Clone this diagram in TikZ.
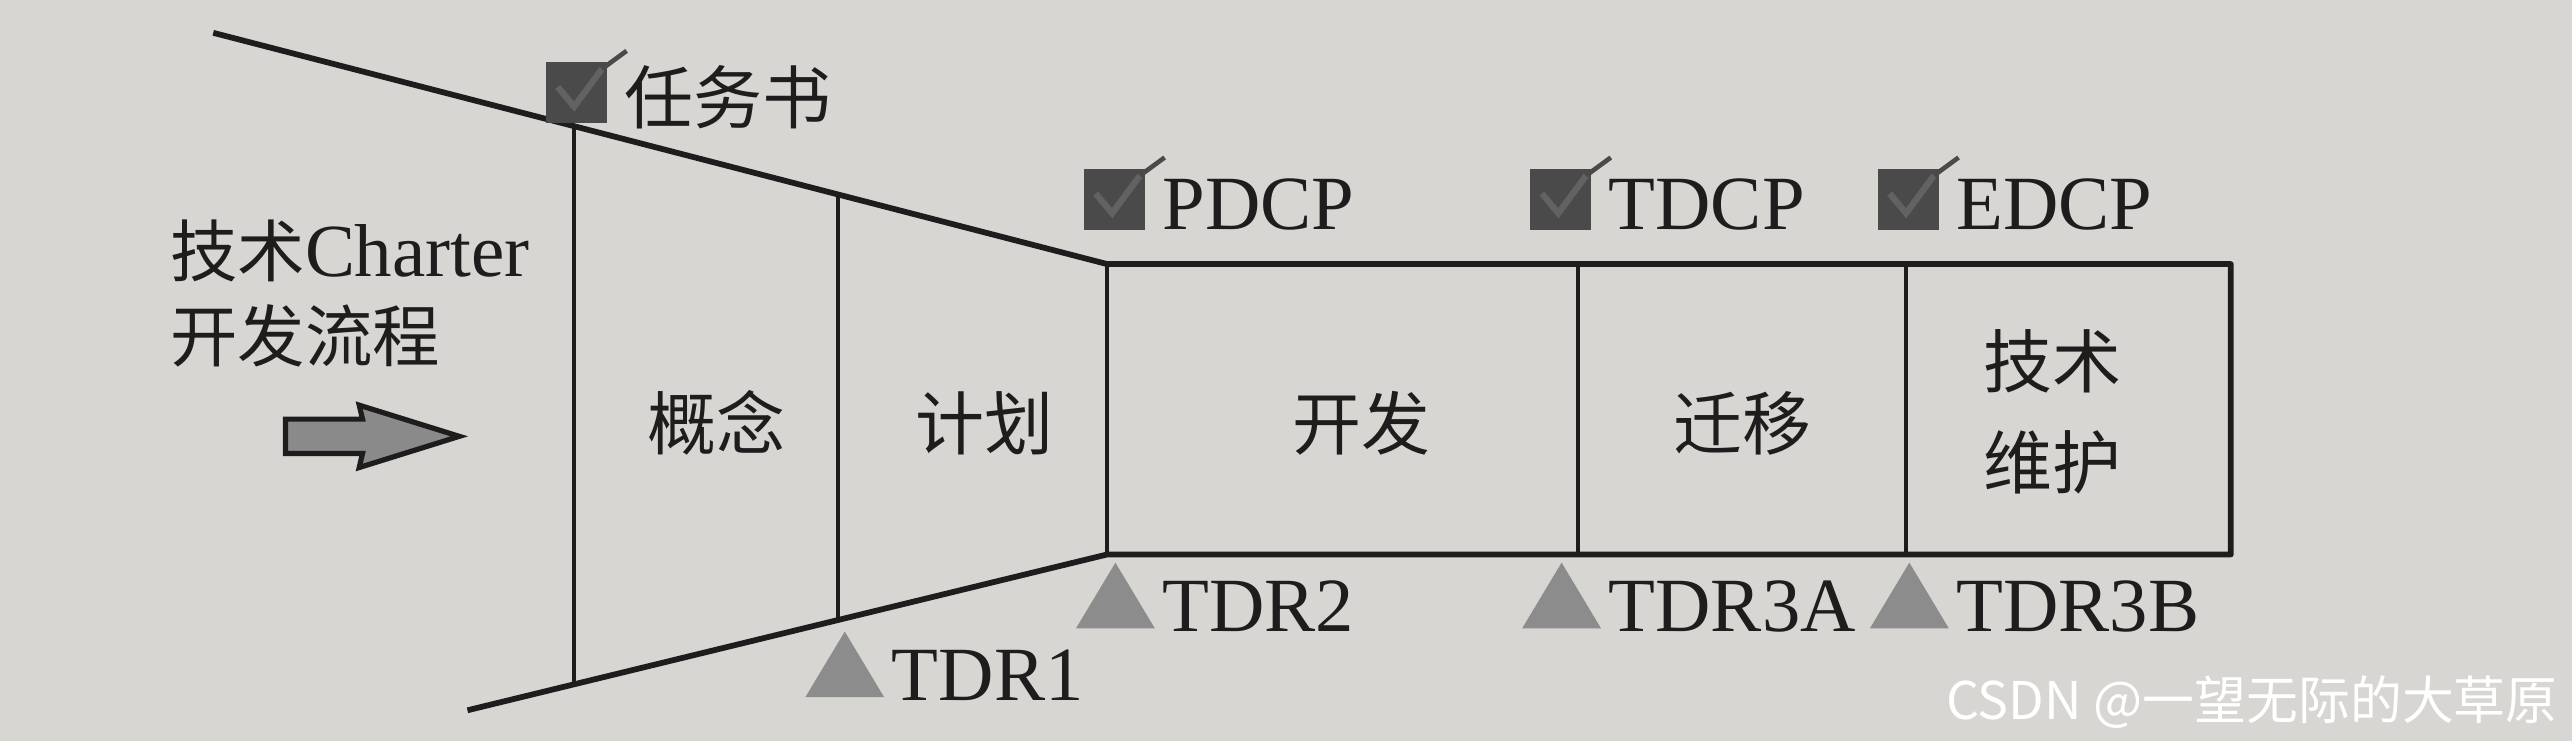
\documentclass[tikz,border=0pt]{standalone}
\usepackage{fontspec}
\setmainfont{Liberation Serif}
\newfontfamily\cjk[Scale=0.9]{Noto Sans CJK SC}
\usetikzlibrary{positioning}
\definecolor{paper}{RGB}{216,214,210}
\definecolor{ink}{RGB}{30,28,28}
\definecolor{boxgray}{RGB}{74,74,74}
\definecolor{chkgray}{RGB}{98,98,98}
\definecolor{trigray}{RGB}{140,140,140}
\definecolor{arrowgray}{RGB}{138,138,138}

\begin{document}
\begin{tikzpicture}[
  every node/.style={inner sep=0pt,text=ink,font=\fontsize{13.3}{16}\selectfont},
  phase/.style={font=\fontsize{13.3}{17.6}\selectfont\cjk,align=center},
  gate/.style={anchor=base west},
  outline/.style={draw=ink,line width=1pt,line join=round},
  divider/.style={draw=ink,line width=0.7pt}
]
  \fill[paper] (0,0) rectangle (15.68,4.52);
  \useasboundingbox (0,0) rectangle (15.68,4.52);

  \coordinate (tl) at (1.30,4.32);
  \coordinate (bl) at (2.85,0.19);
  \coordinate (jt) at (6.75,2.91);
  \coordinate (jb) at (6.75,1.14);
  \coordinate (rt) at (13.60,2.91);
  \coordinate (rb) at (13.60,1.14);
  \draw[outline] (tl) -- (jt) -- (rt) -- (rb) -- (jb) -- (bl);
  \draw[divider] (3.50,3.747) -- (3.50,0.355);
  \draw[divider] (5.11,3.327) -- (5.11,0.744);
  \draw[divider] (jt) -- (jb);
  \draw[divider] (9.62,2.91) -- (9.62,1.14);
  \draw[divider] (11.62,2.91) -- (11.62,1.14);

  \node[phase] (concept) at (4.37,1.94) {概念};
  \node[phase] (plan) at (6.00,1.94) {计划};
  \node[phase] (dev) at (8.30,1.94) {开发};
  \node[phase] (migrate) at (10.62,1.94) {迁移};
  \node[phase] (maintain) at (12.51,2.01) {技术\\维护};

  \node[align=left,anchor=west,font=\fontsize{13}{14.8}\selectfont] (title) at (1.03,2.73)
    {{\cjk 技术}Charter\\{\cjk 开发流程}};
  \coordinate (flow) at (1.74,1.86);
  \draw[ink,line width=0.9pt,fill=arrowgray] (flow) -- ++(0,-0.105) -- ++(0.47,0) -- ++(-0.02,-0.085)
    -- ++(0.61,0.19) -- ++(-0.61,0.19) -- ++(0.02,-0.085) -- ++(-0.47,0) -- cycle;

  \node[gate,font=\fontsize{13.3}{16}\selectfont\cjk] (charter) at (3.80,3.77) {任务书};
  \node[gate] (pdcp) at (7.08,3.12) {PDCP};
  \node[gate] (tdcp) at (9.80,3.12) {TDCP};
  \node[gate] (edcp) at (11.92,3.12) {EDCP};
  \node[gate] (tdr1) at (5.43,0.25) {TDR1};
  \node[gate] (tdr2) at (7.08,0.67) {TDR2};
  \node[gate] (tdr3a) at (9.80,0.67) {TDR3A};
  \node[gate] (tdr3b) at (11.92,0.67) {TDR3B};

  \foreach \n in {charter,pdcp,tdcp,edcp} {
    \fill[boxgray] ([xshift=-0.10cm]\n.base west) rectangle ++(-0.37,0.37);
    \draw[chkgray,line width=1.1pt] ([xshift=-0.40cm,yshift=0.22cm]\n.base west) -- ++(0.10,-0.12) -- ++(0.17,0.23);
    \draw[boxgray,line width=0.8pt] ([xshift=-0.13cm,yshift=0.33cm]\n.base west) -- ++(0.15,0.11);
  }
  \foreach \n in {tdr1,tdr2,tdr3a,tdr3b}
    \fill[trigray] ([xshift=-0.04cm,yshift=0.02cm]\n.base west) -- ++(-0.48,0) -- ++(0.24,0.40) -- cycle;

  \node[anchor=east,text=white,font=\fontsize{10}{12}\selectfont\cjk] (mark) at (15.60,0.24) {CSDN @一望无际的大草原};
\end{tikzpicture}
\end{document}
